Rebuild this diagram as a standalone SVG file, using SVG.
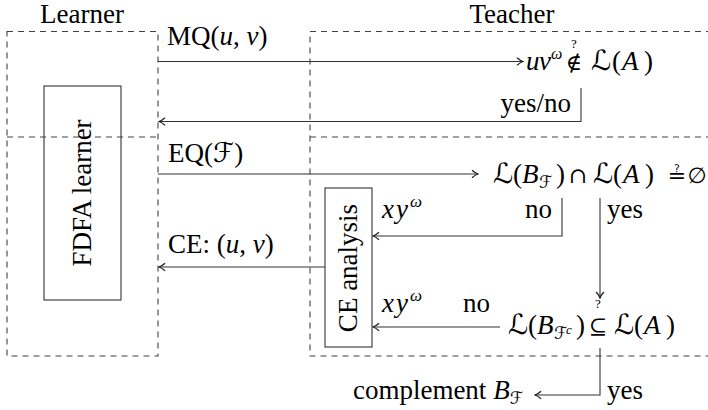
<svg xmlns="http://www.w3.org/2000/svg" width="708" height="410" viewBox="0 0 708 410">
<defs>
<style>
text{font-family:"Liberation Serif","DejaVu Serif",serif;font-size:27px;fill:#000}
.i{font-style:italic}
.s{font-family:"DejaVu Serif","DejaVu Sans",serif}
.L{font-family:"DejaVu Serif","DejaVu Sans",serif;font-size:28px}
.op{font-family:"DejaVu Serif","DejaVu Sans",serif;font-size:22px}
.sup{font-size:17px}
.q{font-size:13px}
.dash{fill:none;stroke:#444;stroke-width:1.1;stroke-dasharray:6 5}
.box{fill:none;stroke:#333;stroke-width:1.1}
.edge{fill:none;stroke:#333;stroke-width:1.1;marker-end:url(#arr)}
</style>
<marker id="arr" viewBox="-7 -5 8 10" markerWidth="8" markerHeight="10" refX="0" refY="0" orient="auto" markerUnits="userSpaceOnUse">
<path d="M-6,-3.8 C-3.5,-1.6 -1.5,-0.5 0,0 C-1.5,0.5 -3.5,1.6 -6,3.8" fill="none" stroke="#222" stroke-width="1.3"/>
</marker>
</defs>

<g id="learner">
<text x="82" y="23" text-anchor="middle">Learner</text>
<path class="dash" d="M7,31.5 H158 V356 H7 Z M7,137 H158"/>
</g>
<g id="teacher">
<text x="512" y="23" text-anchor="middle">Teacher</text>
<path class="dash" d="M712,31.5 H310 V356 H712 M310,137 H712"/>
</g>

<g id="fdfa-learner">
<rect class="box" x="44" y="86" width="77" height="214"/>
<text transform="translate(91,193) rotate(-90)" text-anchor="middle">FDFA learner</text>
</g>

<g id="ce-analysis">
<rect class="box" x="325" y="188" width="47" height="159"/>
<text transform="translate(357,268) rotate(-90)" text-anchor="middle">CE analysis</text>
</g>

<g id="membership-check">
<text y="70"><tspan class="i" x="526">u</tspan><tspan class="i" x="539">v</tspan><tspan class="i" style="font-size:16px" x="551" y="59">ω</tspan></text>
<text class="op" x="574" y="70" text-anchor="middle">∉</text>
<text class="q" x="574" y="48" text-anchor="middle">?</text>
<text y="70"><tspan class="L" x="591">ℒ</tspan><tspan x="612">(</tspan><tspan class="i" x="622">A</tspan><tspan x="644">)</tspan></text>
</g>

<g id="intersection-check">
<text y="183"><tspan class="L" x="493">ℒ</tspan><tspan x="513">(</tspan><tspan class="i" x="522">B</tspan><tspan class="sup s" x="539" y="188">ℱ</tspan><tspan x="556" y="183">)</tspan></text>
<text class="op" x="578" y="183" text-anchor="middle">∩</text>
<text y="183"><tspan class="L" x="593">ℒ</tspan><tspan x="613">(</tspan><tspan class="i" x="623">A</tspan><tspan x="645">)</tspan></text>
<text class="op" x="677" y="183" text-anchor="middle">≟</text>
<text class="op" x="697" y="183" text-anchor="middle">∅</text>
</g>

<g id="inclusion-check">
<text y="334"><tspan class="L" x="508">ℒ</tspan><tspan x="528">(</tspan><tspan class="i" x="537">B</tspan><tspan class="sup s" x="554" y="339">ℱ</tspan><tspan class="i" style="font-size:13px" x="566" y="334">c</tspan><tspan x="576" y="334">)</tspan></text>
<text class="op" x="598" y="334" text-anchor="middle">⊆</text>
<text class="q" x="598" y="308" text-anchor="middle">?</text>
<text y="334"><tspan class="L" x="614">ℒ</tspan><tspan x="634">(</tspan><tspan class="i" x="644">A</tspan><tspan x="666">)</tspan></text>
</g>

<g id="complement">
<text x="523" y="399" text-anchor="end">complement <tspan class="i">B</tspan><tspan class="sup s" dy="5">ℱ</tspan></text>
</g>

<g id="connectors">
<path class="edge" d="M158,61.5 H523"/>
<path class="edge" d="M581,88 V121.5 H159"/>
<path class="edge" d="M158,174 H478"/>
<path class="edge" d="M562,198 V236 H373"/>
<path class="edge" d="M600,198 V298"/>
<path class="edge" d="M325,267 H159"/>
<path class="edge" d="M500,327 H373"/>
<path class="edge" d="M600,348 V395 H535"/>
</g>

<g id="labels">
<text x="167" y="45">MQ(<tspan class="i">u</tspan>, <tspan class="i">v</tspan>)</text>
<text x="571" y="112" text-anchor="end">yes/no</text>
<text x="168" y="162">EQ(<tspan class="s">ℱ</tspan>)</text>
<text y="218"><tspan class="i" x="382">x</tspan><tspan class="i" x="396">y</tspan><tspan class="sup i" x="410" y="207">ω</tspan></text>
<text x="552" y="218" text-anchor="end">no</text>
<text x="607" y="218">yes</text>
<text x="168" y="253">CE: (<tspan class="i">u</tspan>, <tspan class="i">v</tspan>)</text>
<text y="312"><tspan class="i" x="382">x</tspan><tspan class="i" x="396">y</tspan><tspan class="sup i" x="410" y="301">ω</tspan></text>
<text x="463" y="312">no</text>
<text x="607" y="399">yes</text>
</g>
</svg>
